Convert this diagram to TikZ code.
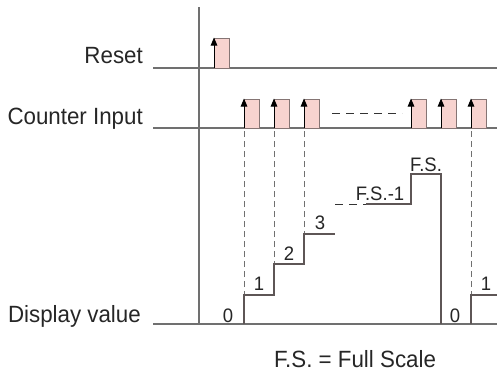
\documentclass[tikz,border=0pt]{standalone}
\usepackage{fontspec}
\setmainfont{Liberation Sans}[FakeStretch=0.95]
\usetikzlibrary{arrows.meta}
\definecolor{axisgray}{HTML}{707070}
\definecolor{stairgray}{HTML}{5E5656}
\definecolor{pulsefill}{HTML}{F7D3CF}
\definecolor{pulseedge}{HTML}{857574}
\tikzset{
  axisline/.style={draw=axisgray, line width=1.1pt},
  pulsebox/.style={fill=pulsefill, draw=pulseedge, line width=1pt},
  edgearrow/.style={-{Triangle[length=8pt,width=6.5pt]}, black, line width=1pt, shorten >=-0.5pt},
  dashv/.style={draw=axisgray, line width=1pt, dash pattern=on 6pt off 4pt},
  dashh/.style={draw=black!80, line width=1pt, dash pattern=on 8pt off 6pt},
  stair/.style={draw=stairgray, line width=1.1pt},
  biglabel/.style={font=\fontsize{23.5}{26}\selectfont, inner sep=0, text=black!85},
  smalllabel/.style={font=\fontsize{19.5}{22}\selectfont, inner sep=0, anchor=base, text=black!85},
}
\begin{document}
\begin{tikzpicture}[x=1pt, y=-1pt]
\useasboundingbox (0,0) rectangle (497,373);

% axes
\draw[axisline] (199,7) -- (199,324);
\draw[axisline] (153,68) -- (497,68);
\draw[axisline] (153,128) -- (497,128);
\draw[axisline] (153,324) -- (497,324);

% row labels
\node[biglabel, anchor=base east] (lreset) at (143,63) {Reset};
\node[biglabel, anchor=base east] (lcount) at (143,124) {Counter Input};
\node[biglabel, anchor=base east] (ldisp) at (141,322) {Display value};
\node[biglabel, anchor=base] (lfs) at (355,367) {F.S. = Full Scale};

% reset pulse
\draw[pulsebox] (214,68) rectangle (229,38);
\coordinate (r0) at (214,68);
\coordinate (r1) at (214,38);
\draw[edgearrow] (r0) -- (r1);

% counter pulses
\foreach \x/\n in {244/a,274/b,304/c,411/d,441/e,471/f}{
  \draw[pulsebox] (\x,128) rectangle (\x+15,99);
  \coordinate (p\n0) at (\x,128);
  \coordinate (p\n1) at (\x,99);
  \draw[edgearrow] (p\n0) -- (p\n1);
}
\coordinate (dh0) at (332,113);
\coordinate (dh1) at (402,113);
\draw[dashh] (dh0) -- (dh1);

% dashed projections
\coordinate (sa) at (244,295);
\coordinate (sb) at (274,264);
\coordinate (sc) at (304,234);
\coordinate (sf) at (471,295);
\draw[dashv] (244,131) -- (sa);
\draw[dashv] (274,131) -- (sb);
\draw[dashv] (304,131) -- (sc);
\draw[dashv] (471,131) -- (sf);

% staircase
\draw[stair] (244,324) -- (sa) -- (274,295) -- (sb) -- (304,264) -- (sc) -- (335,234);
\draw[dashh] (335,204) -- (368,204);
\draw[stair] (366,204) -- (411,204) -- (411,174) -- (441,174) -- (441,324);
\draw[stair] (471,324) -- (sf) -- (497,295);

% value labels
\node[smalllabel] (v0) at (228,322) {0};
\node[smalllabel] (v1) at (259,290) {1};
\node[smalllabel] (v2) at (289,260) {2};
\node[smalllabel] (v3) at (320,229) {3};
\node[smalllabel] (vfsm) at (380,200) {F.S.-1};
\node[smalllabel] (vfs) at (426,171) {F.S.};
\node[smalllabel] (w0) at (455,322) {0};
\node[smalllabel] (w1) at (486,290) {1};
\end{tikzpicture}
\end{document}
